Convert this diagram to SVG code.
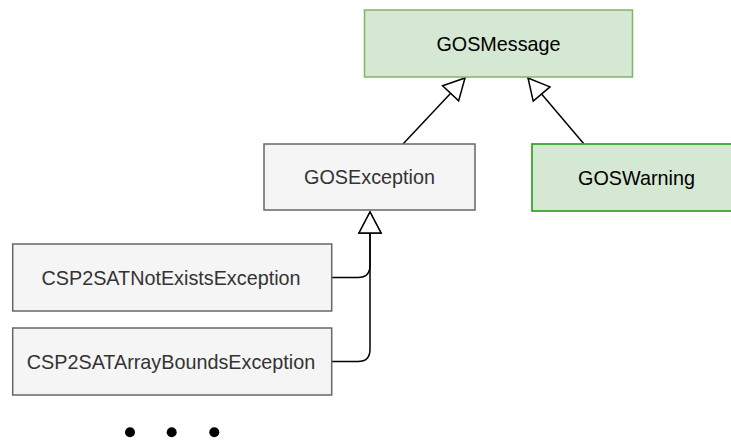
<svg xmlns="http://www.w3.org/2000/svg" width="731" height="440" viewBox="0 0 731 440">
  <defs>
    <style>
      .box-green { fill: #d5e8d4; stroke: #82b366; stroke-width: 1.5; }
      .box-green-strong { fill: #d5e8d4; stroke: #36a82a; stroke-width: 1.8; }
      .box-gray { fill: #f5f5f5; stroke: #666666; stroke-width: 1.5; }
      .label { font-family: "Liberation Sans", Arial, sans-serif; font-size: 19.8px; text-anchor: middle; }
      .label-dark { fill: #000000; }
      .label-gray { fill: #333333; }
      .edge { fill: none; stroke: #000000; stroke-width: 1.5; }
    </style>
    <!-- hollow triangle for UML generalization -->
    <marker id="inherit" markerUnits="userSpaceOnUse" markerWidth="26" markerHeight="26"
            viewBox="-2 -2 26 26" refX="21" refY="11" orient="auto">
      <path d="M0,0 L21,11 L0,22 Z" fill="#ffffff" stroke="#000000" stroke-width="1.5" stroke-linejoin="miter"/>
    </marker>
  </defs>

  <rect width="731" height="440" fill="#ffffff"/>

  <g id="connectors">
    <path class="edge" d="M403,144 L465,78" marker-end="url(#inherit)"/>
    <path class="edge" d="M584,144 L528,78" marker-end="url(#inherit)"/>
    <path class="edge" d="M332,277.5 L358,277.5 Q370,277.5 370,265.5 L370,212" marker-end="url(#inherit)"/>
    <path class="edge" d="M332,361.5 L358,361.5 Q370,361.5 370,349.5 L370,212" marker-end="url(#inherit)"/>
  </g>

  <g id="gos-message">
    <rect class="box-green" x="364.5" y="10" width="268" height="67"/>
    <text class="label label-dark" x="498.5" y="50.5">GOSMessage</text>
  </g>

  <g id="gos-exception">
    <rect class="box-gray" x="264" y="144" width="211" height="66"/>
    <text class="label label-gray" x="369.5" y="184">GOSException</text>
  </g>

  <g id="gos-warning">
    <rect class="box-green-strong" x="532" y="144" width="209" height="67"/>
    <text class="label label-dark" x="636.5" y="184.5">GOSWarning</text>
  </g>

  <g id="csp2sat-not-exists">
    <rect class="box-gray" x="12.7" y="244" width="319" height="67"/>
    <text class="label label-gray" x="171" y="284.5">CSP2SATNotExistsException</text>
  </g>

  <g id="csp2sat-array-bounds">
    <rect class="box-gray" x="12.7" y="328" width="319" height="67"/>
    <text class="label label-gray" x="171" y="368.5">CSP2SATArrayBoundsException</text>
  </g>

  <g id="ellipsis">
    <circle cx="130" cy="432.3" r="5"/>
    <circle cx="171.7" cy="432.3" r="5"/>
    <circle cx="214.3" cy="432.3" r="5"/>
  </g>
</svg>
